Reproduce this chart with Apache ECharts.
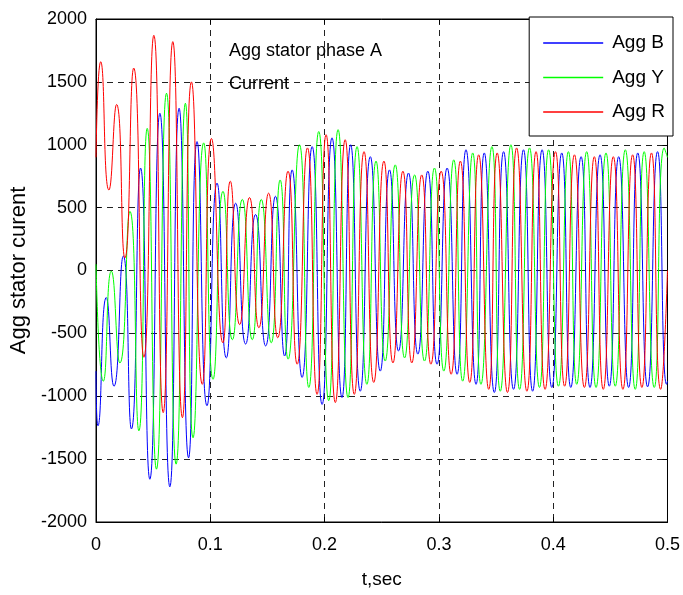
<!DOCTYPE html>
<html>
<head>
<meta charset="utf-8">
<script src="https://cdn.jsdelivr.net/npm/echarts@6/dist/echarts.min.js"></script>
<style>html,body{margin:0;padding:0;background:#fff}#c{width:683px;height:595px}</style>
</head>
<body>
<div id="c"></div>
<script>
// Extrema: [time (s), current]
var aggB = [[0,-800],[0.0017,-1235],[0.009,-215],[0.0157,-920],[0.0239,115],[0.031,-1260],[0.039,815],[0.0471,-1660],[0.0559,1250],[0.0646,-1720],[0.0727,1290],[0.081,-1490],[0.0884,1025],[0.0971,-1075],[0.1059,695],[0.114,-695],[0.1222,535],[0.1309,-585],[0.1396,445],[0.1484,-600],[0.157,590],[0.165,-680],[0.1716,800],[0.1803,-850],[0.1891,985],[0.1978,-1065],[0.2065,1055],[0.2152,-1010],[0.2228,1000],[0.2312,-960],[0.24,905],[0.2487,-800],[0.2568,800],[0.2647,-640],[0.2734,775],[0.2816,-665],[0.2903,790],[0.2984,-745],[0.3072,815],[0.3159,-825],[0.3237,960],[0.3325,-905],[0.3397,935],[0.3485,-970],[0.3566,945],[0.3653,-945],[0.374,960],[0.382,-960],[0.3903,960],[0.3988,-930],[0.4075,935],[0.4154,-930],[0.4244,905],[0.4322,-930],[0.441,920],[0.4491,-920],[0.4573,905],[0.466,-930],[0.474,935],[0.4826,-925],[0.4913,945],[0.4992,-905],[0.5,-880]];
var aggY = [[0,50],[0.0064,-880],[0.0134,-5],[0.0209,-735],[0.0297,470],[0.0375,-1275],[0.0448,1130],[0.0529,-1580],[0.0617,1410],[0.0701,-1540],[0.0782,1330],[0.0849,-1330],[0.0942,1015],[0.1024,-865],[0.1111,630],[0.1193,-550],[0.128,565],[0.1367,-550],[0.1446,565],[0.1533,-575],[0.1611,720],[0.1681,-705],[0.178,1000],[0.1862,-930],[0.1949,1105],[0.2036,-1035],[0.2118,1120],[0.2205,-1010],[0.2284,985],[0.237,-905],[0.245,870],[0.253,-720],[0.2618,840],[0.27,-695],[0.2787,760],[0.2874,-720],[0.2961,815],[0.3043,-800],[0.313,880],[0.3208,-880],[0.3296,935],[0.3368,-905],[0.3464,985],[0.3537,-960],[0.363,1000],[0.3706,-945],[0.3793,975],[0.388,-930],[0.396,960],[0.4046,-920],[0.4133,945],[0.4206,-905],[0.4293,945],[0.4375,-930],[0.4462,935],[0.4543,-920],[0.4631,960],[0.4718,-945],[0.4796,945],[0.4884,-930],[0.4971,975],[0.5,900]];
var aggR = [[0,900],[0.0041,1660],[0.0113,640],[0.018,1320],[0.0253,100],[0.033,1610],[0.0419,-690],[0.0506,1870],[0.0588,-1130],[0.0672,1820],[0.0756,-1170],[0.0835,1500],[0.093,-905],[0.101,1050],[0.111,-575],[0.1175,710],[0.1257,-430],[0.1343,580],[0.1425,-455],[0.151,615],[0.159,-535],[0.168,790],[0.176,-745],[0.185,975],[0.1934,-985],[0.2013,1080],[0.2094,-1050],[0.218,1040],[0.226,-985],[0.2345,945],[0.243,-890],[0.2519,870],[0.2598,-735],[0.2685,790],[0.2763,-735],[0.285,760],[0.293,-745],[0.302,790],[0.3107,-825],[0.3188,870],[0.327,-890],[0.3348,920],[0.3436,-945],[0.351,935],[0.36,-970],[0.368,975],[0.377,-960],[0.385,945],[0.3929,-945],[0.402,945],[0.41,-920],[0.4186,920],[0.4273,-930],[0.436,905],[0.4438,-945],[0.4526,905],[0.461,-945],[0.4695,920],[0.4776,-930],[0.486,935],[0.494,-945],[0.5,0]];
var seriesNames = ['Agg B', 'Agg Y', 'Agg R'];
var xTicks = [0, 0.1, 0.2, 0.3, 0.4, 0.5];
var yTicks = [-2000, -1500, -1000, -500, 0, 500, 1000, 1500, 2000];

var FONT = '"Liberation Sans", Arial, Helvetica, sans-serif';
var chart = echarts.init(document.getElementById('c'), null, {renderer: 'canvas'});
var dashed = {show: true, lineStyle: {color: '#222', type: [6, 5], width: 1}};
var tick = {show: true, inside: true, length: 5, lineStyle: {color: '#000', width: 1}};
var line = {show: true, onZero: false, lineStyle: {color: '#000', width: 1}};
function mk(name, data, color) {
  return {name: name, type: 'line', data: data, smooth: 0.6, showSymbol: false, symbol: 'none',
    lineStyle: {color: color, width: 1}, itemStyle: {color: color}, clip: true, animation: false};
}
chart.setOption({
  animation: false,
  backgroundColor: '#fff',
  textStyle: {fontFamily: FONT},
  grid: {left: 96, top: 19, width: 573, height: 503, show: true, borderColor: '#000', borderWidth: 1, backgroundColor: '#fff', containLabel: false},
  legend: {
    data: seriesNames, orient: 'vertical', right: 10, top: 17,
    icon: 'rect', itemWidth: 60, itemHeight: 1.5, itemGap: 14.5,
    padding: [16, 8, 14, 14], backgroundColor: '#fff', borderColor: '#000', borderWidth: 1, borderRadius: 0,
    textStyle: {fontSize: 19, color: '#000', fontFamily: FONT, lineHeight: 20, padding: [0, 0, 0, 4]}
  },
  xAxis: [
    {type: 'value', min: xTicks[0], max: xTicks[xTicks.length - 1], interval: 0.1,
      axisLine: line, axisTick: tick, splitLine: dashed,
      axisLabel: {color: '#000', fontSize: 18, margin: 14, showMinLabel: true, showMaxLabel: true,
        formatter: function (v) { return String(Math.round(v * 10) / 10); }},
      name: 't,sec', nameLocation: 'middle', nameGap: 48, nameTextStyle: {color: '#000', fontSize: 19}},
    {type: 'value', position: 'top', min: 0, max: 0.5, interval: 0.1,
      axisLine: line, axisTick: tick, axisLabel: {show: false}, splitLine: {show: false}}
  ],
  yAxis: [
    {type: 'value', min: yTicks[0], max: yTicks[yTicks.length - 1], interval: 500,
      axisLine: line, axisTick: tick, splitLine: dashed,
      axisLabel: {color: '#000', fontSize: 18, margin: 9, showMinLabel: true, showMaxLabel: true,
        formatter: function (v) { return String(v); }},
      name: 'Agg stator curent', nameLocation: 'middle', nameGap: 64, nameRotate: 90,
      nameTextStyle: {color: '#000', fontSize: 22}},
    {type: 'value', position: 'right', min: -2000, max: 2000, interval: 500,
      axisLine: line, axisTick: tick, axisLabel: {show: false}, splitLine: {show: false}}
  ],
  graphic: [
    {type: 'text', left: 229, top: 42, style: {text: 'Agg stator phase A', font: '18px ' + FONT, fill: '#000'}, z: 100},
    {type: 'text', left: 229, top: 75, style: {text: 'Current', font: '18px ' + FONT, fill: '#000'}, z: 100}
  ],
  series: [mk(seriesNames[0], aggB, '#0000ff'), mk(seriesNames[1], aggY, '#00ff00'), mk(seriesNames[2], aggR, '#ff0000')]
});
</script>
</body>
</html>
